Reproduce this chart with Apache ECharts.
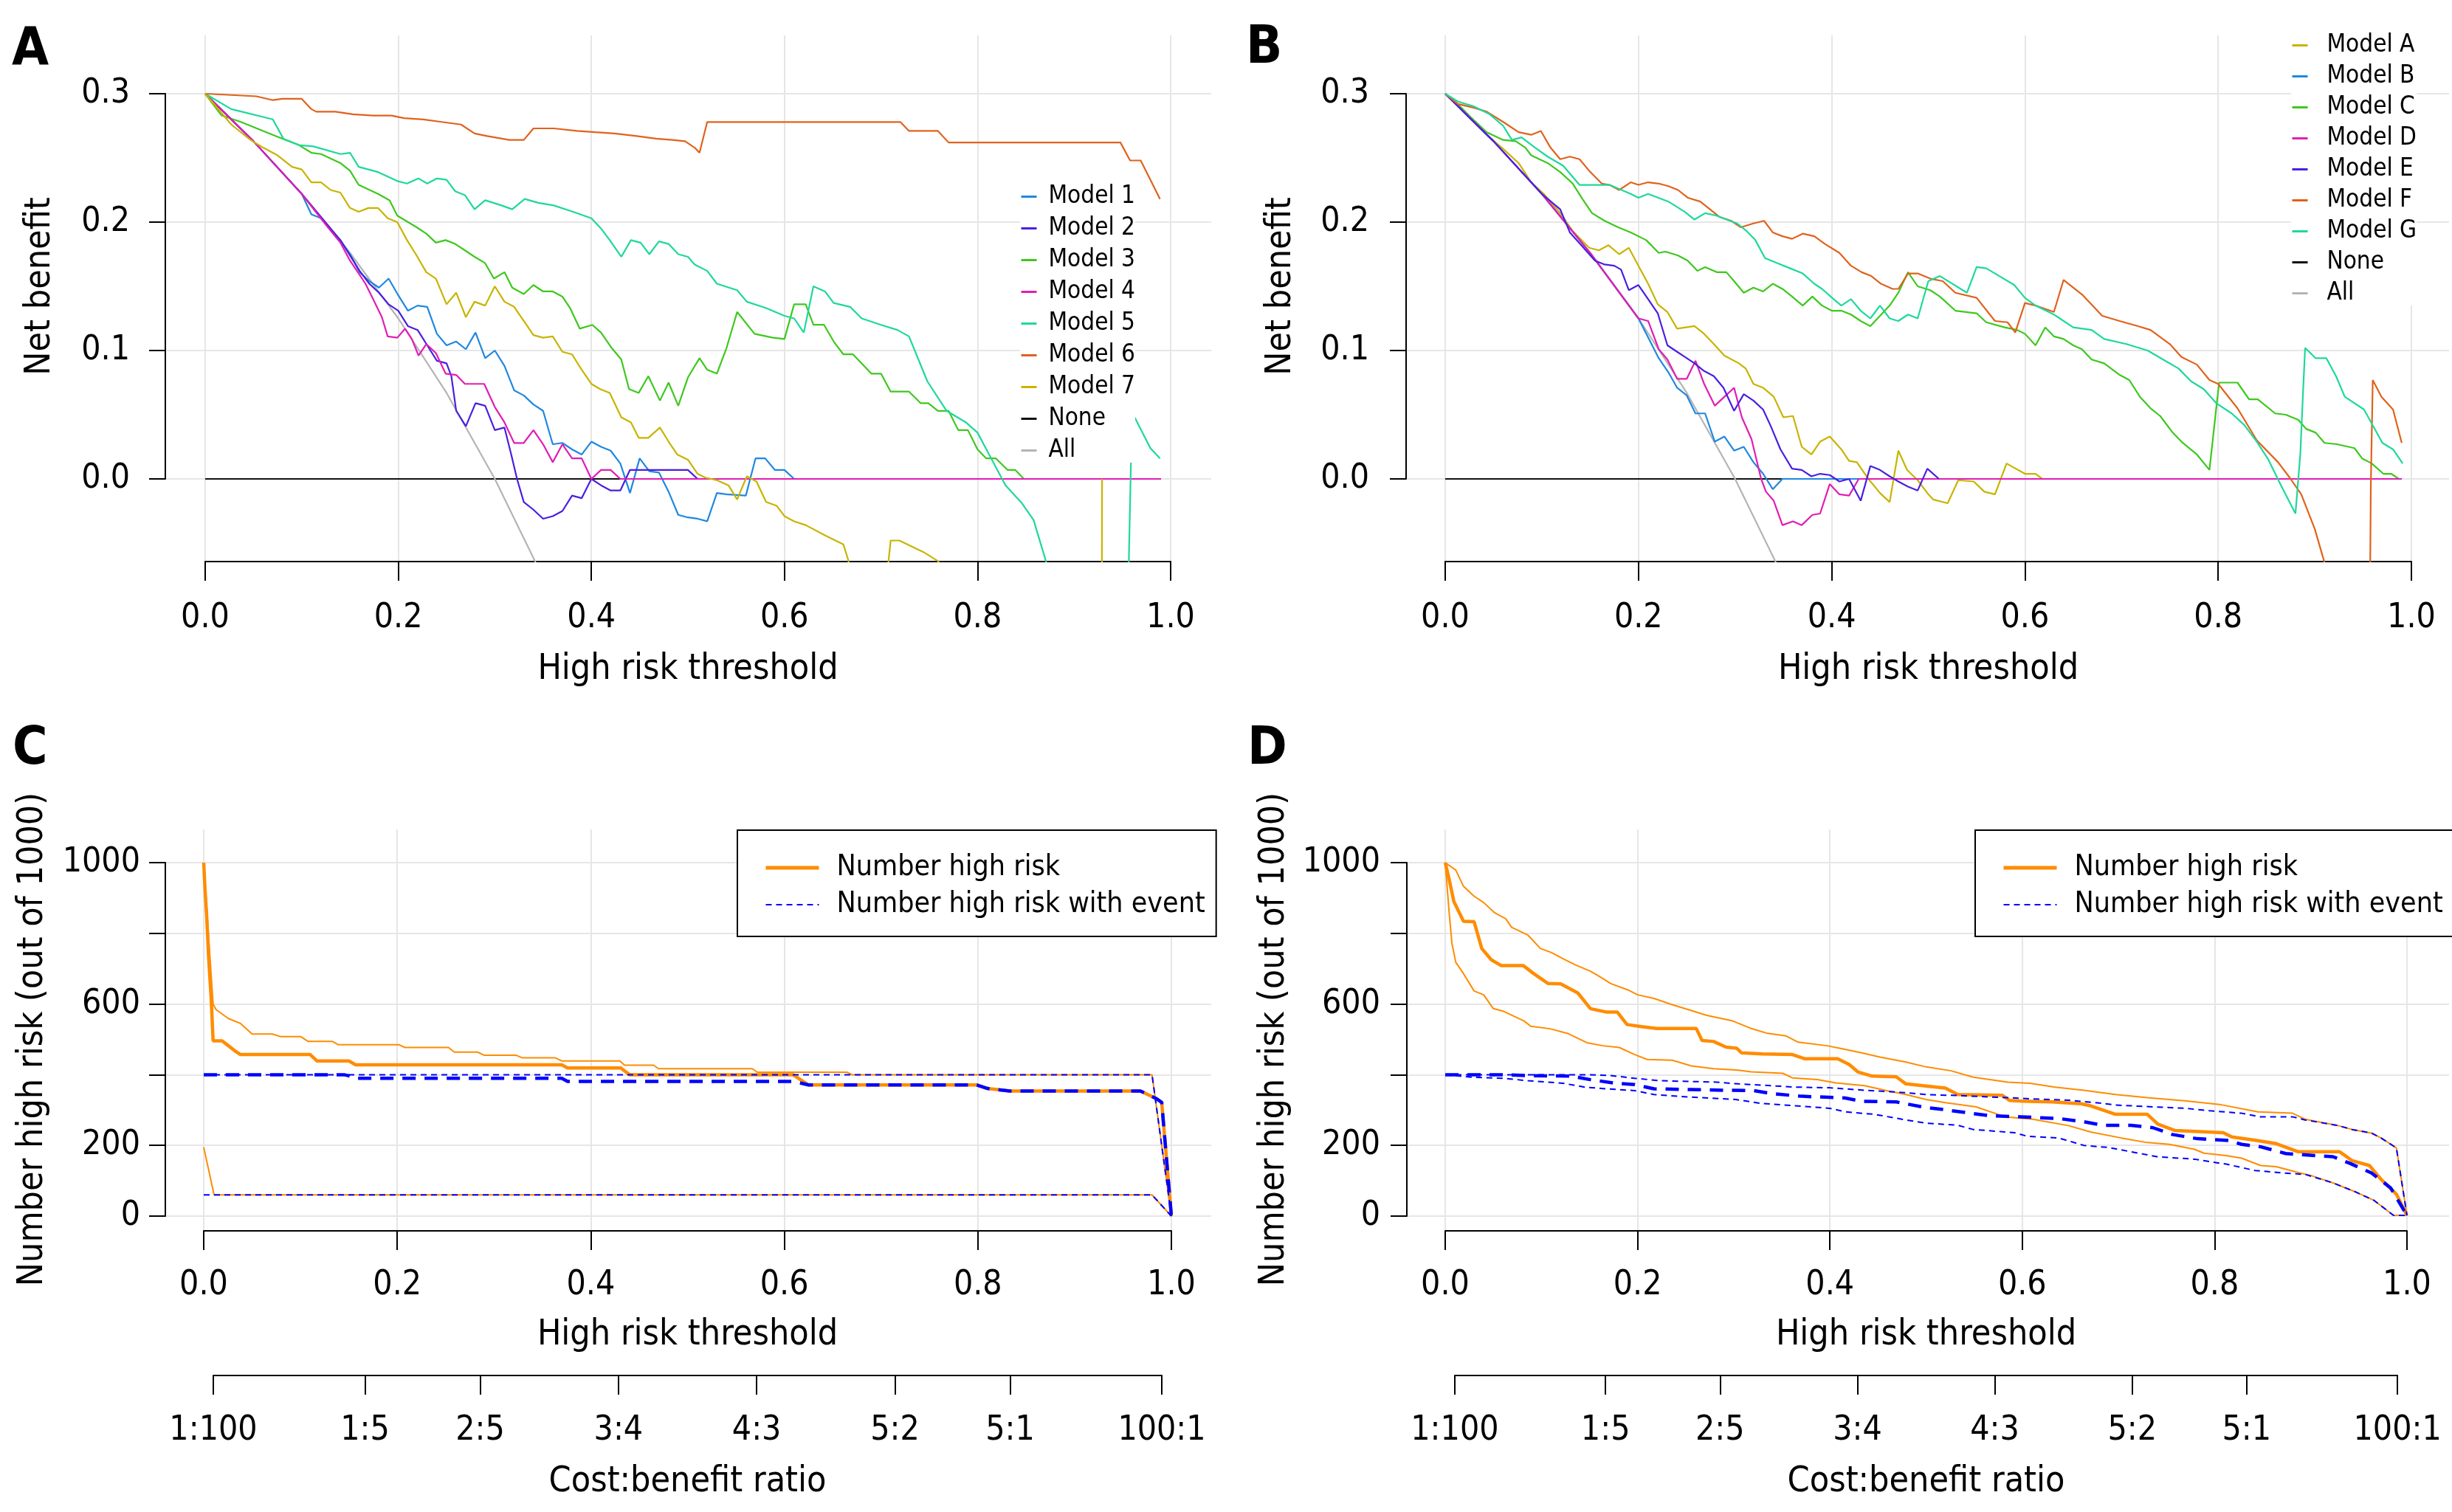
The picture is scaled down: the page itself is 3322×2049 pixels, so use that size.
<!DOCTYPE html>
<html>
<head>
<meta charset="utf-8">
<script src="https://cdn.jsdelivr.net/npm/echarts@6/dist/echarts.min.js"></script>
<style>
  html, body { margin: 0; padding: 0; background: #fff; }
  #chart { width: 3322px; height: 2049px; }
</style>
</head>
<body>
<div id="chart"></div>
<script>
// ---------------- data ----------------
// panel A: net benefit, models 1-7
const noneA = [[0, 0], [0.99, 0]];
const allA = [[0, 0.3], [0.05, 0.263], [0.1, 0.222], [0.15, 0.176], [0.2, 0.125], [0.25, 0.067], [0.3, 0], [0.35, -0.077]];
const model1A = [[0,0.3],[0.05,0.263],[0.1,0.222],[0.11,0.206],[0.12,0.203],[0.13,0.194],[0.14,0.186],[0.15,0.175],[0.16,0.161],[0.17,0.154],[0.18,0.149],[0.19,0.156],[0.2,0.143],[0.21,0.131],[0.22,0.135],[0.23,0.134],[0.24,0.113],[0.25,0.104],[0.26,0.107],[0.27,0.101],[0.28,0.114],[0.29,0.094],[0.3,0.1],[0.31,0.088],[0.32,0.069],[0.33,0.065],[0.34,0.058],[0.35,0.053],[0.36,0.027],[0.37,0.028],[0.38,0.023],[0.39,0.019],[0.4,0.029],[0.41,0.025],[0.42,0.022],[0.43,0.012],[0.44,-0.011],[0.45,0.016],[0.46,0.006],[0.47,0.005],[0.48,-0.01],[0.49,-0.028],[0.5,-0.03],[0.51,-0.031],[0.52,-0.033],[0.53,-0.011],[0.54,-0.012],[0.56,-0.013],[0.57,0.016],[0.58,0.016],[0.59,0.007],[0.6,0.007],[0.61,0]];
const model2A = [[0,0.3],[0.05,0.263],[0.1,0.222],[0.14,0.186],[0.16,0.162],[0.17,0.152],[0.18,0.145],[0.19,0.136],[0.2,0.131],[0.21,0.119],[0.22,0.116],[0.23,0.104],[0.24,0.092],[0.25,0.09],[0.255,0.08],[0.26,0.053],[0.27,0.041],[0.28,0.059],[0.29,0.057],[0.3,0.038],[0.31,0.04],[0.317,0.019],[0.323,0],[0.33,-0.018],[0.34,-0.024],[0.35,-0.031],[0.36,-0.029],[0.37,-0.025],[0.38,-0.013],[0.39,-0.015],[0.4,0],[0.41,-0.005],[0.42,-0.009],[0.43,-0.009],[0.44,0.007],[0.5,0.007],[0.51,0]];
const model3A = [[0,0.3],[0.017,0.283],[0.037,0.278],[0.06,0.271],[0.08,0.265],[0.097,0.26],[0.11,0.254],[0.12,0.253],[0.14,0.246],[0.15,0.24],[0.159,0.229],[0.179,0.222],[0.191,0.217],[0.199,0.205],[0.219,0.196],[0.229,0.191],[0.239,0.184],[0.249,0.186],[0.259,0.183],[0.269,0.178],[0.279,0.173],[0.29,0.168],[0.299,0.156],[0.31,0.161],[0.318,0.149],[0.33,0.144],[0.34,0.151],[0.35,0.146],[0.36,0.146],[0.37,0.142],[0.378,0.133],[0.388,0.117],[0.401,0.12],[0.41,0.114],[0.421,0.102],[0.431,0.093],[0.439,0.07],[0.449,0.067],[0.459,0.08],[0.471,0.061],[0.48,0.075],[0.49,0.057],[0.5,0.079],[0.512,0.094],[0.52,0.085],[0.53,0.082],[0.54,0.102],[0.551,0.13],[0.569,0.113],[0.588,0.11],[0.6,0.109],[0.61,0.136],[0.622,0.136],[0.63,0.12],[0.641,0.12],[0.651,0.107],[0.661,0.097],[0.671,0.097],[0.69,0.082],[0.7,0.082],[0.71,0.068],[0.729,0.068],[0.741,0.059],[0.749,0.059],[0.759,0.053],[0.77,0.053],[0.78,0.038],[0.79,0.038],[0.8,0.023],[0.809,0.016],[0.819,0.016],[0.831,0.007],[0.839,0.007],[0.848,0]];
const model4A = [[0,0.3],[0.05,0.263],[0.1,0.222],[0.126,0.197],[0.14,0.184],[0.15,0.17],[0.159,0.16],[0.166,0.152],[0.174,0.14],[0.183,0.126],[0.189,0.111],[0.199,0.11],[0.207,0.117],[0.214,0.109],[0.221,0.096],[0.229,0.105],[0.239,0.098],[0.249,0.082],[0.26,0.081],[0.269,0.074],[0.289,0.074],[0.3,0.056],[0.31,0.044],[0.32,0.028],[0.33,0.028],[0.34,0.038],[0.35,0.027],[0.36,0.013],[0.37,0.027],[0.38,0.016],[0.39,0.016],[0.4,0],[0.41,0.007],[0.42,0.007],[0.43,0],[0.99,0]];
const model5A = [[0,0.3],[0.027,0.288],[0.07,0.28],[0.081,0.265],[0.097,0.26],[0.112,0.259],[0.14,0.253],[0.15,0.254],[0.159,0.243],[0.179,0.239],[0.199,0.232],[0.209,0.23],[0.221,0.234],[0.23,0.23],[0.24,0.234],[0.25,0.233],[0.259,0.224],[0.269,0.221],[0.279,0.21],[0.29,0.217],[0.307,0.213],[0.318,0.21],[0.331,0.218],[0.345,0.215],[0.361,0.213],[0.381,0.208],[0.4,0.203],[0.41,0.195],[0.419,0.186],[0.431,0.173],[0.441,0.186],[0.451,0.184],[0.46,0.175],[0.47,0.185],[0.48,0.183],[0.49,0.175],[0.5,0.173],[0.507,0.167],[0.52,0.162],[0.53,0.152],[0.551,0.147],[0.561,0.138],[0.581,0.133],[0.6,0.127],[0.61,0.125],[0.62,0.114],[0.63,0.15],[0.642,0.146],[0.651,0.137],[0.668,0.134],[0.68,0.125],[0.7,0.12],[0.717,0.116],[0.729,0.111],[0.748,0.076],[0.768,0.053],[0.788,0.044],[0.8,0.036],[0.812,0.019],[0.829,-0.005],[0.846,-0.019],[0.858,-0.032],[0.872,-0.067],[0.9,-0.15],[0.95,-0.3],[0.959,0.017],[0.96,0.052],[0.979,0.024],[0.989,0.016]];
const model6A = [[0,0.3],[0.027,0.299],[0.053,0.298],[0.07,0.295],[0.08,0.296],[0.1,0.296],[0.11,0.288],[0.115,0.286],[0.135,0.286],[0.153,0.284],[0.174,0.283],[0.193,0.283],[0.206,0.281],[0.226,0.28],[0.245,0.278],[0.265,0.276],[0.279,0.269],[0.292,0.267],[0.315,0.264],[0.33,0.264],[0.34,0.273],[0.361,0.273],[0.385,0.271],[0.404,0.27],[0.424,0.269],[0.447,0.267],[0.467,0.265],[0.484,0.264],[0.497,0.263],[0.507,0.258],[0.512,0.254],[0.52,0.278],[0.72,0.278],[0.729,0.271],[0.759,0.271],[0.77,0.262],[0.948,0.262],[0.958,0.248],[0.969,0.248],[0.989,0.218]];
const model7A = [[0,0.3],[0.027,0.276],[0.047,0.264],[0.06,0.258],[0.075,0.252],[0.09,0.243],[0.1,0.241],[0.11,0.231],[0.12,0.231],[0.13,0.225],[0.14,0.223],[0.15,0.211],[0.159,0.208],[0.169,0.211],[0.179,0.211],[0.189,0.203],[0.199,0.2],[0.209,0.186],[0.219,0.174],[0.229,0.161],[0.239,0.156],[0.25,0.136],[0.26,0.145],[0.27,0.126],[0.279,0.138],[0.29,0.135],[0.3,0.15],[0.31,0.138],[0.32,0.134],[0.33,0.123],[0.34,0.112],[0.35,0.11],[0.36,0.111],[0.37,0.099],[0.38,0.097],[0.39,0.085],[0.4,0.074],[0.409,0.07],[0.419,0.067],[0.431,0.048],[0.441,0.044],[0.449,0.032],[0.459,0.032],[0.471,0.04],[0.48,0.029],[0.489,0.019],[0.5,0.015],[0.51,0.004],[0.518,0.001],[0.53,-0.001],[0.542,-0.005],[0.551,-0.016],[0.561,0.002],[0.571,-0.002],[0.581,-0.018],[0.592,-0.021],[0.6,-0.029],[0.61,-0.033],[0.622,-0.036],[0.642,-0.044],[0.661,-0.051],[0.666,-0.063],[0.68,-0.12],[0.7,-0.12],[0.71,-0.048],[0.719,-0.048],[0.744,-0.057],[0.759,-0.064],[0.78,-0.09],[0.92,-0.3],[0.928,-0.3],[0.929,0]];

// panel B: net benefit, models A-G
const noneB = [[0, 0], [0.99, 0]];
const allB = [[0, 0.3], [0.05, 0.263], [0.1, 0.222], [0.15, 0.176], [0.2, 0.125], [0.25, 0.067], [0.3, 0], [0.35, -0.077]];
const modelAB = [[0,0.3],[0.043,0.268],[0.06,0.257],[0.076,0.246],[0.089,0.231],[0.102,0.222],[0.119,0.207],[0.132,0.193],[0.149,0.18],[0.159,0.178],[0.169,0.182],[0.18,0.175],[0.19,0.18],[0.2,0.166],[0.21,0.152],[0.22,0.136],[0.23,0.13],[0.24,0.117],[0.258,0.119],[0.268,0.113],[0.278,0.105],[0.289,0.096],[0.304,0.09],[0.311,0.086],[0.319,0.074],[0.329,0.071],[0.34,0.064],[0.35,0.048],[0.36,0.049],[0.369,0.025],[0.379,0.019],[0.388,0.029],[0.398,0.033],[0.41,0.023],[0.418,0.014],[0.426,0.013],[0.438,0],[0.45,-0.011],[0.46,-0.018],[0.469,0.022],[0.478,0.007],[0.489,-0.001],[0.499,-0.011],[0.505,-0.016],[0.52,-0.019],[0.531,-0.001],[0.547,-0.002],[0.558,-0.01],[0.569,-0.012],[0.581,0.012],[0.6,0.004],[0.611,0.004],[0.618,0]];
const modelBB = [[0,0.3],[0.05,0.263],[0.1,0.222],[0.15,0.176],[0.2,0.125],[0.221,0.094],[0.231,0.083],[0.24,0.071],[0.25,0.065],[0.259,0.051],[0.269,0.051],[0.279,0.029],[0.289,0.033],[0.299,0.022],[0.309,0.025],[0.319,0.013],[0.329,0.004],[0.339,-0.008],[0.349,0],[0.99,0]];
const modelCB = [[0,0.3],[0.013,0.292],[0.026,0.282],[0.043,0.27],[0.06,0.264],[0.073,0.263],[0.083,0.258],[0.089,0.252],[0.106,0.246],[0.119,0.239],[0.132,0.23],[0.142,0.218],[0.152,0.207],[0.165,0.201],[0.179,0.196],[0.192,0.192],[0.208,0.186],[0.221,0.176],[0.228,0.177],[0.241,0.174],[0.251,0.17],[0.261,0.162],[0.269,0.165],[0.281,0.161],[0.291,0.161],[0.299,0.154],[0.309,0.145],[0.319,0.149],[0.329,0.146],[0.339,0.152],[0.349,0.148],[0.359,0.142],[0.37,0.135],[0.38,0.142],[0.39,0.135],[0.4,0.131],[0.41,0.131],[0.42,0.128],[0.43,0.123],[0.44,0.119],[0.45,0.127],[0.46,0.135],[0.469,0.145],[0.479,0.161],[0.489,0.15],[0.502,0.147],[0.512,0.142],[0.528,0.131],[0.55,0.129],[0.56,0.122],[0.579,0.118],[0.592,0.116],[0.6,0.113],[0.611,0.104],[0.621,0.118],[0.63,0.111],[0.64,0.109],[0.65,0.104],[0.659,0.101],[0.669,0.093],[0.682,0.09],[0.698,0.081],[0.708,0.077],[0.719,0.064],[0.73,0.055],[0.74,0.049],[0.753,0.036],[0.762,0.029],[0.778,0.019],[0.791,0.007],[0.798,0.055],[0.801,0.075],[0.82,0.075],[0.832,0.062],[0.841,0.062],[0.859,0.051],[0.87,0.05],[0.883,0.046],[0.891,0.039],[0.901,0.036],[0.91,0.028],[0.923,0.027],[0.941,0.024],[0.949,0.016],[0.959,0.012],[0.971,0.004],[0.979,0.004],[0.987,0]];
const modelDB = [[0,0.3],[0.05,0.263],[0.1,0.222],[0.15,0.176],[0.2,0.125],[0.21,0.123],[0.221,0.101],[0.23,0.093],[0.24,0.078],[0.25,0.078],[0.259,0.092],[0.268,0.074],[0.279,0.057],[0.289,0.064],[0.299,0.071],[0.307,0.048],[0.317,0.031],[0.327,0],[0.332,-0.01],[0.34,-0.017],[0.349,-0.036],[0.36,-0.033],[0.369,-0.036],[0.38,-0.028],[0.388,-0.027],[0.398,-0.004],[0.408,-0.012],[0.418,-0.013],[0.428,0],[0.99,0]];
const modelEB = [[0,0.3],[0.05,0.263],[0.1,0.222],[0.119,0.21],[0.129,0.192],[0.142,0.181],[0.155,0.17],[0.165,0.167],[0.175,0.166],[0.182,0.163],[0.19,0.147],[0.2,0.151],[0.21,0.14],[0.22,0.129],[0.23,0.104],[0.24,0.099],[0.248,0.095],[0.258,0.09],[0.268,0.084],[0.278,0.08],[0.288,0.071],[0.299,0.053],[0.309,0.066],[0.319,0.061],[0.329,0.054],[0.337,0.041],[0.347,0.023],[0.359,0.008],[0.369,0.007],[0.379,0.002],[0.388,0.004],[0.398,0.003],[0.408,-0.002],[0.418,0],[0.43,-0.017],[0.44,0.01],[0.45,0.007],[0.46,0.002],[0.469,-0.002],[0.479,-0.006],[0.489,-0.009],[0.499,0.008],[0.511,0]];
const modelFB = [[0,0.3],[0.013,0.292],[0.03,0.289],[0.043,0.286],[0.06,0.278],[0.076,0.27],[0.089,0.268],[0.099,0.271],[0.109,0.258],[0.119,0.249],[0.129,0.251],[0.139,0.249],[0.149,0.24],[0.162,0.23],[0.17,0.229],[0.18,0.225],[0.192,0.231],[0.2,0.229],[0.21,0.231],[0.221,0.23],[0.231,0.228],[0.241,0.225],[0.251,0.219],[0.264,0.216],[0.274,0.21],[0.284,0.204],[0.296,0.201],[0.306,0.196],[0.319,0.199],[0.33,0.201],[0.339,0.192],[0.349,0.189],[0.359,0.187],[0.37,0.191],[0.382,0.189],[0.393,0.183],[0.408,0.176],[0.42,0.166],[0.431,0.161],[0.441,0.158],[0.451,0.152],[0.463,0.148],[0.469,0.148],[0.479,0.16],[0.489,0.16],[0.502,0.156],[0.515,0.154],[0.528,0.145],[0.55,0.141],[0.569,0.123],[0.582,0.122],[0.59,0.114],[0.6,0.137],[0.611,0.135],[0.63,0.13],[0.64,0.155],[0.66,0.143],[0.68,0.127],[0.698,0.123],[0.717,0.119],[0.73,0.116],[0.75,0.105],[0.762,0.095],[0.778,0.089],[0.791,0.077],[0.8,0.074],[0.82,0.055],[0.84,0.03],[0.862,0.013],[0.875,0],[0.886,-0.012],[0.9,-0.039],[0.91,-0.065],[0.93,-0.15],[0.955,-0.3],[0.958,-0.005],[0.96,0.077],[0.969,0.064],[0.981,0.054],[0.99,0.028]];
const modelGB = [[0,0.3],[0.013,0.294],[0.03,0.29],[0.046,0.284],[0.06,0.275],[0.069,0.264],[0.079,0.266],[0.093,0.258],[0.106,0.251],[0.122,0.244],[0.139,0.229],[0.17,0.229],[0.192,0.222],[0.2,0.219],[0.21,0.222],[0.231,0.216],[0.248,0.208],[0.258,0.202],[0.269,0.207],[0.281,0.205],[0.291,0.202],[0.302,0.199],[0.312,0.193],[0.321,0.186],[0.331,0.172],[0.344,0.168],[0.357,0.164],[0.37,0.16],[0.382,0.152],[0.39,0.148],[0.402,0.14],[0.41,0.135],[0.42,0.14],[0.43,0.131],[0.44,0.125],[0.45,0.135],[0.46,0.125],[0.469,0.123],[0.479,0.128],[0.489,0.125],[0.5,0.154],[0.512,0.158],[0.54,0.145],[0.55,0.165],[0.56,0.164],[0.569,0.16],[0.589,0.151],[0.6,0.141],[0.611,0.135],[0.63,0.128],[0.65,0.118],[0.669,0.116],[0.682,0.109],[0.705,0.105],[0.727,0.1],[0.743,0.093],[0.759,0.086],[0.772,0.076],[0.785,0.07],[0.798,0.059],[0.814,0.051],[0.827,0.042],[0.84,0.029],[0.852,0.015],[0.865,-0.005],[0.88,-0.027],[0.885,0.019],[0.888,0.07],[0.89,0.102],[0.901,0.094],[0.912,0.094],[0.922,0.08],[0.931,0.064],[0.951,0.054],[0.97,0.028],[0.981,0.023],[0.991,0.012]];

// panel C: number high risk (out of 1000), with confidence bands
const highRiskC = [[0,1000],[0.0013,926],[0.003,852],[0.005,735],[0.0077,616],[0.0097,496],[0.019,496],[0.0255,482],[0.032,468],[0.038,457],[0.11,457],[0.117,439],[0.15,439],[0.157,428],[0.37,428],[0.376,419],[0.431,419],[0.44,400],[0.609,400],[0.625,371],[0.799,371],[0.81,361],[0.833,354],[0.968,354],[0.984,333],[0.99,322],[1,0]];
const highRiskUpperC = [[0,1000],[0.0097,600],[0.0128,584],[0.0255,559],[0.038,545],[0.05,515],[0.071,515],[0.079,508],[0.1,508],[0.108,494],[0.133,494],[0.139,485],[0.2015,485],[0.208,477],[0.253,477],[0.259,464],[0.283,464],[0.29,455],[0.323,455],[0.329,448],[0.363,448],[0.37,439],[0.43,439],[0.435,427],[0.465,427],[0.47,417],[0.567,417],[0.572,407],[0.665,407],[0.67,400],[0.98,400],[1,0]];
const highRiskLowerC = [[0,195],[0.0107,60],[0.98,60],[1,0]];
const withEventC = [[0,400],[0.145,400],[0.15,397],[0.156,390],[0.37,390],[0.376,381],[0.61,381],[0.625,371],[0.799,371],[0.81,361],[0.833,354],[0.968,354],[0.984,333],[0.99,322],[1,0]];
const withEventUpperC = [[0,400],[0.98,400],[1,0]];
const withEventLowerC = [[0,60],[0.98,60],[1,0]];

// panel D
const highRiskD = [[0,1000],[0.004,954],[0.009,890],[0.019,834],[0.03,833],[0.038,757],[0.048,725],[0.058,709],[0.081,709],[0.092,686],[0.107,658],[0.12,657],[0.138,631],[0.151,587],[0.168,577],[0.179,577],[0.189,542],[0.204,536],[0.22,531],[0.261,531],[0.267,497],[0.279,494],[0.292,478],[0.303,475],[0.308,462],[0.33,459],[0.361,457],[0.374,445],[0.408,445],[0.42,429],[0.429,408],[0.444,396],[0.469,394],[0.479,374],[0.5,368],[0.52,362],[0.533,344],[0.579,342],[0.587,327],[0.6,325],[0.631,323],[0.661,318],[0.671,312],[0.697,288],[0.73,288],[0.741,260],[0.759,242],[0.809,236],[0.818,224],[0.841,215],[0.864,205],[0.887,182],[0.93,182],[0.943,157],[0.961,143],[0.973,104],[0.989,62],[1,2]];
const highRiskUpperD = [[0,1000],[0.011,979],[0.019,933],[0.03,905],[0.04,887],[0.051,859],[0.063,841],[0.069,817],[0.086,795],[0.099,757],[0.11,746],[0.122,729],[0.135,711],[0.151,693],[0.164,672],[0.172,658],[0.19,640],[0.2,626],[0.217,616],[0.236,598],[0.253,584],[0.272,568],[0.299,552],[0.317,532],[0.335,517],[0.354,510],[0.367,492],[0.397,482],[0.41,475],[0.433,462],[0.452,450],[0.479,436],[0.5,422],[0.526,411],[0.549,393],[0.585,379],[0.608,376],[0.634,365],[0.664,356],[0.697,344],[0.73,335],[0.769,326],[0.805,316],[0.845,295],[0.881,291],[0.894,274],[0.927,257],[0.943,245],[0.963,235],[0.973,221],[0.989,193],[1,2]];
const highRiskLowerD = [[0,1000],[0.004,862],[0.007,771],[0.011,718],[0.019,686],[0.03,637],[0.04,626],[0.05,587],[0.06,580],[0.082,552],[0.089,537],[0.109,530],[0.128,516],[0.148,490],[0.164,482],[0.181,477],[0.197,457],[0.21,443],[0.236,441],[0.256,425],[0.279,417],[0.305,413],[0.318,408],[0.351,404],[0.361,391],[0.387,386],[0.406,377],[0.436,369],[0.459,355],[0.479,344],[0.5,330],[0.52,321],[0.552,309],[0.582,281],[0.611,274],[0.648,256],[0.671,238],[0.703,221],[0.73,208],[0.753,203],[0.779,189],[0.789,178],[0.812,171],[0.828,164],[0.848,143],[0.864,140],[0.887,123],[0.9,115],[0.923,94],[0.946,69],[0.966,44],[0.986,2],[1,2]];
const withEventD = [[0,400],[0.06,400],[0.092,397],[0.131,396],[0.151,386],[0.177,376],[0.197,372],[0.217,360],[0.256,358],[0.289,356],[0.321,355],[0.341,346],[0.371,339],[0.416,334],[0.433,325],[0.469,323],[0.5,307],[0.516,302],[0.566,284],[0.598,281],[0.638,276],[0.664,267],[0.684,257],[0.713,257],[0.736,250],[0.756,231],[0.782,219],[0.815,214],[0.828,203],[0.848,196],[0.874,177],[0.923,168],[0.94,150],[0.963,122],[0.983,80],[1,2]];
const withEventUpperD = [[0,400],[0.151,400],[0.171,398],[0.197,390],[0.223,383],[0.282,379],[0.305,374],[0.364,365],[0.4,363],[0.436,356],[0.469,351],[0.5,344],[0.533,341],[0.585,335],[0.608,332],[0.648,328],[0.684,319],[0.697,314],[0.769,305],[0.795,298],[0.828,291],[0.847,281],[0.881,281],[0.894,272],[0.927,257],[0.943,245],[0.963,235],[0.973,221],[0.989,193],[1,2]];
const withEventLowerD = [[0,400],[0.027,393],[0.06,390],[0.086,383],[0.122,376],[0.145,365],[0.168,360],[0.197,355],[0.217,344],[0.253,337],[0.302,330],[0.328,319],[0.364,312],[0.4,305],[0.416,295],[0.446,288],[0.475,274],[0.5,263],[0.533,257],[0.549,245],[0.592,236],[0.605,226],[0.638,221],[0.664,200],[0.69,194],[0.713,182],[0.74,168],[0.779,161],[0.812,147],[0.842,129],[0.871,122],[0.894,118],[0.923,94],[0.946,69],[0.966,44],[0.986,2],[1,2]];

// axis labels
const costBenefitLabels = ['1:100', '1:5', '2:5', '3:4', '4:3', '5:2', '5:1', '100:1'];
const countAxisLabels = [0, 200, 600, 1000];   // 400 and 800 have ticks but no label

// ---------------- styling ----------------
const FONT = "'DejaVu Sans Condensed', 'DejaVu Sans', sans-serif";
const BLUE = '#1f88e0', VIOLET = '#4a1fe0', GREEN = '#3ec81e', MAGENTA = '#e01eb4',
      TEAL = '#1ed89a', ORANGE = '#e0621c', OLIVE = '#c8b400', NONE_C = '#111', ALL_C = '#b4b4b4';
const DARKORANGE = '#ff8c00', PURE_BLUE = '#0000ff';
const GRID_LINE = { color: '#e6e6e6', width: 2 };

// threshold of a cost:benefit ratio a:b is a/(a+b)
const costBenefitTicks = costBenefitLabels.map(s => {
  const [a, b] = s.split(':').map(Number);
  return a / (a + b);
});

const layouts = {
  A: { x0: 278, x1: 1586, yAxisX: 224, right: 1641, top: 48, bottom: 761, yTopPx: 127, yBotPx: 649, yMax: 0.3, yInt: 0.1, labelMargin: 48 },
  B: { x0: 1958, x1: 3267, yAxisX: 1905, right: 3318, top: 48, bottom: 761, yTopPx: 127, yBotPx: 649, yMax: 0.3, yInt: 0.1, labelMargin: 50 },
  C: { x0: 276, x1: 1587, yAxisX: 224, right: 1641, top: 1124, bottom: 1668, yTopPx: 1169, yBotPx: 1648, yMax: 1000, yInt: 200, labelMargin: 34, costY: 1864 },
  D: { x0: 1958, x1: 3261, yAxisX: 1906, right: 3318, top: 1124, bottom: 1668, yTopPx: 1169, yBotPx: 1648, yMax: 1000, yInt: 200, labelMargin: 36, costY: 1864 }
};

const option = {
  animation: false,
  backgroundColor: '#fff',
  textStyle: { fontFamily: FONT, color: '#000' },
  grid: [], xAxis: [], yAxis: [], series: [], legend: [], graphic: []
};

const axisLine = { show: true, onZero: false, lineStyle: { color: '#000', width: 2 } };
const tickStyle = { color: '#000', width: 2 };

function addPanel(L, isCount, seriesList) {
  const g = option.grid.length;
  const perPx = L.yMax / (L.yBotPx - L.yTopPx);
  const yLo = -(L.bottom - L.yBotPx) * perPx;
  const yHi = L.yMax + (L.yTopPx - L.top) * perPx;

  // plot grid: data lines, threshold axis, vertical grid lines
  option.grid.push({ left: L.x0, top: L.top, width: L.x1 - L.x0, height: L.bottom - L.top });
  // y-axis grid: axis spans only its tick range, horizontal grid lines run full width
  option.grid.push({ left: L.yAxisX, top: L.yTopPx, width: L.right - L.yAxisX, height: L.yBotPx - L.yTopPx });

  const xi = option.xAxis.length, yi = option.yAxis.length;
  option.xAxis.push({
    gridIndex: g, type: 'value', min: 0, max: 1, interval: 0.2,
    axisLine, axisTick: { show: true, length: 26, lineStyle: tickStyle },
    axisLabel: { fontSize: 46, margin: isCount ? 51 : 54, color: '#000', formatter: v => v.toFixed(1) },
    splitLine: { show: true, lineStyle: GRID_LINE },
    name: 'High risk threshold', nameLocation: 'middle', nameGap: isCount ? 118 : 123,
    nameTextStyle: { fontSize: 48, color: '#000' }
  });
  option.yAxis.push({ gridIndex: g, type: 'value', show: false, min: yLo, max: yHi });
  option.xAxis.push({ gridIndex: g + 1, type: 'value', show: false, min: 0, max: 1 });
  option.yAxis.push({
    gridIndex: g + 1, type: 'value', min: 0, max: L.yMax, interval: L.yInt,
    axisLine, axisTick: { show: true, length: 22, lineStyle: tickStyle },
    axisLabel: {
      fontSize: 46, margin: L.labelMargin, color: '#000',
      formatter: isCount ? (v => countAxisLabels.includes(v) ? String(v) : '') : (v => v.toFixed(1))
    },
    splitLine: { show: true, lineStyle: GRID_LINE },
    name: isCount ? 'Number high risk (out of 1000)' : 'Net benefit',
    nameLocation: 'middle', nameRotate: 90, nameGap: isCount ? 155 : 145,
    nameTextStyle: { fontSize: 48, color: '#000' }
  });

  if (L.costY) {
    const w = L.x1 - L.x0;
    option.grid.push({ left: L.x0 + w * costBenefitTicks[0], width: w * (costBenefitTicks[7] - costBenefitTicks[0]), top: L.costY - 10, height: 10 });
    option.xAxis.push({
      gridIndex: g + 2, type: 'value', min: costBenefitTicks[0], max: costBenefitTicks[7],
      axisLine, axisTick: { show: true, length: 26, lineStyle: tickStyle, customValues: costBenefitTicks },
      axisLabel: {
        fontSize: 46, margin: 52, color: '#000', customValues: costBenefitTicks,
        formatter: v => {
          let best = 0;
          costBenefitTicks.forEach((t, i) => { if (Math.abs(t - v) < Math.abs(costBenefitTicks[best] - v)) best = i; });
          return costBenefitLabels[best];
        }
      },
      splitLine: { show: false },
      name: 'Cost:benefit ratio', nameLocation: 'middle', nameGap: 121,
      nameTextStyle: { fontSize: 48, color: '#000' }
    });
    option.yAxis.push({ gridIndex: g + 2, type: 'value', show: false, min: 0, max: 1 });
  }

  seriesList.forEach(s => {
    option.series.push({
      type: 'line', name: s.name, xAxisIndex: xi, yAxisIndex: yi, data: s.data,
      symbol: 'none', silent: true, clip: true,
      itemStyle: { color: s.color },
      lineStyle: { color: s.color, width: s.width || 2.2, type: s.dash || 'solid' }
    });
  });
}

addPanel(layouts.A, false, [
  { name: 'None', data: noneA, color: NONE_C },
  { name: 'All', data: allA, color: ALL_C },
  { name: 'Model 1', data: model1A, color: BLUE },
  { name: 'Model 2', data: model2A, color: VIOLET },
  { name: 'Model 3', data: model3A, color: GREEN },
  { name: 'Model 4', data: model4A, color: MAGENTA },
  { name: 'Model 5', data: model5A, color: TEAL },
  { name: 'Model 6', data: model6A, color: ORANGE },
  { name: 'Model 7', data: model7A, color: OLIVE }
]);
addPanel(layouts.B, false, [
  { name: 'None', data: noneB, color: NONE_C },
  { name: 'All', data: allB, color: ALL_C },
  { name: 'Model A', data: modelAB, color: OLIVE },
  { name: 'Model B', data: modelBB, color: BLUE },
  { name: 'Model C', data: modelCB, color: GREEN },
  { name: 'Model D', data: modelDB, color: MAGENTA },
  { name: 'Model E', data: modelEB, color: VIOLET },
  { name: 'Model F', data: modelFB, color: ORANGE },
  { name: 'Model G', data: modelGB, color: TEAL }
]);
const bandSeries = (hr, hrU, hrL, ev, evU, evL) => [
  { name: 'Number high risk', data: hr, color: DARKORANGE, width: 4.5 },
  { name: 'Number high risk (upper)', data: hrU, color: DARKORANGE, width: 2 },
  { name: 'Number high risk (lower)', data: hrL, color: DARKORANGE, width: 2 },
  { name: 'Number high risk with event', data: ev, color: PURE_BLUE, width: 4.5, dash: [18, 12] },
  { name: 'Number high risk with event (upper)', data: evU, color: PURE_BLUE, width: 2, dash: [8, 6] },
  { name: 'Number high risk with event (lower)', data: evL, color: PURE_BLUE, width: 2, dash: [8, 6] }
];
addPanel(layouts.C, true, bandSeries(highRiskC, highRiskUpperC, highRiskLowerC, withEventC, withEventUpperC, withEventLowerC));
addPanel(layouts.D, true, bandSeries(highRiskD, highRiskUpperD, highRiskLowerD, withEventD, withEventUpperD, withEventLowerD));

// legends
const modelLegend = (names, left, top, gap, textPad) => ({
  data: names, orient: 'vertical', left, top, selectedMode: false,
  itemWidth: 21, itemHeight: 12, itemGap: gap, padding: 0,
  backgroundColor: '#fff',
  itemStyle: { opacity: 0 }, lineStyle: { width: 3 },
  textStyle: { fontSize: 33, lineHeight: 33, color: '#000', padding: [0, 0, 0, textPad] }
});
option.legend.push(modelLegend(['Model 1', 'Model 2', 'Model 3', 'Model 4', 'Model 5', 'Model 6', 'Model 7', 'None', 'All'], 1382, 250, 10, 11));
option.legend.push(modelLegend(['Model A', 'Model B', 'Model C', 'Model D', 'Model E', 'Model F', 'Model G', 'None', 'All'], 3104, 45, 9, 21));
const bandLegend = left => ({
  data: [
    { name: 'Number high risk', lineStyle: { width: 5 } },
    { name: 'Number high risk with event', lineStyle: { width: 2, type: [8, 6] } }
  ],
  orient: 'vertical', left, top: 1125, selectedMode: false,
  itemWidth: 72, itemHeight: 20, itemGap: 10, padding: [31, 15, 23, 36],
  backgroundColor: '#fff', borderColor: '#000', borderWidth: 2,
  itemStyle: { opacity: 0 },
  textStyle: { fontSize: 39, lineHeight: 40, color: '#000', padding: [0, 0, 0, 19] }
});
option.legend.push(bandLegend(999));
option.legend.push(bandLegend(2676));

// panel letters
[['A', 16, 32], ['B', 1688, 30], ['C', 17, 980], ['D', 1690, 980]].forEach(([t, x, y]) => {
  option.graphic.push({
    type: 'text', left: x, top: y, z: 100,
    style: { text: t, fontSize: 72, fontWeight: 'bold', fontFamily: FONT, fill: '#000' }
  });
});

const chart = echarts.init(document.getElementById('chart'), null, { renderer: 'canvas' });
chart.setOption(option);
</script>
</body>
</html>
